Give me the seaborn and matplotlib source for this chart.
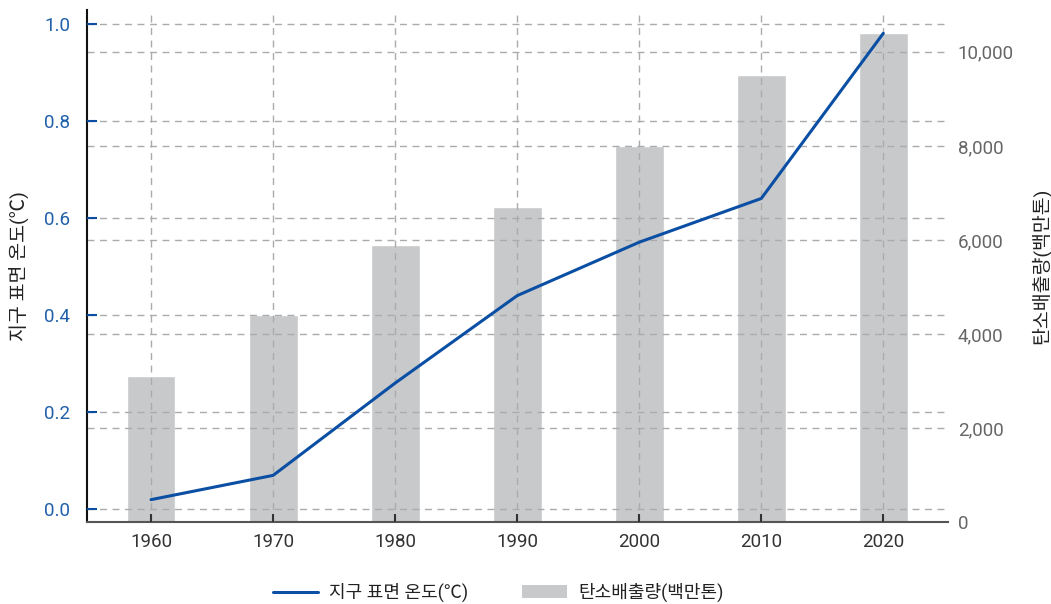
import matplotlib
matplotlib.use("Agg")
import matplotlib.pyplot as plt
import seaborn as sns
import pandas as pd
from matplotlib.lines import Line2D
from matplotlib.patches import Patch
from matplotlib.ticker import FuncFormatter

years = ["1960", "1970", "1980", "1990", "2000", "2010", "2020"]
temperature = [0.02, 0.07, 0.26, 0.44, 0.55, 0.64, 0.98]
emissions = [3100, 4400, 5900, 6700, 8000, 9500, 10400]
temp_label = "지구 표면 온도(℃)"
emis_label = "탄소배출량(백만톤)"
left_ticks = [0.0, 0.2, 0.4, 0.6, 0.8, 1.0]
right_ticks = [0, 2000, 4000, 6000, 8000, 10000]

sns.set_theme(style="white")
plt.rcParams["font.family"] = ["Roboto", "Noto Sans CJK KR", "DejaVu Sans"]

df = pd.DataFrame({"year": years, "temp": temperature, "emis": emissions})

LINE_C = "#0a4fa3"
BAR_C = "#c8c9cb"
GRID_C = "#ababab"

fig = plt.figure(figsize=(10.51, 6.04), dpi=100)
ax1 = fig.add_axes([87 / 1051, 1 - 522 / 604, (948 - 87) / 1051, (522 - 10) / 604])
ax2 = ax1.twinx()

# bars on right axis (drawn behind)
sns.barplot(data=df, x="year", y="emis", ax=ax2, color=BAR_C, width=0.4,
            saturation=1, zorder=1)
ax2.set_ylim(0, 10890)
ax2.set_yticks(right_ticks)
ax2.yaxis.set_major_formatter(FuncFormatter(lambda v, p: f"{int(v):,}"))
ax2.tick_params(axis="y", length=0, pad=7, labelsize=13.5, labelcolor="#666666")
ax2.set_axisbelow(False)
ax2.grid(axis="y", color=GRID_C, linestyle=(0, (5, 4)), linewidth=1)
ax2.grid(axis="x", visible=False)
for s in ax2.spines.values():
    s.set_visible(False)
ax2.set_ylabel(emis_label, fontsize=14, color="#222222", labelpad=12)

# line on left axis (drawn on top)
ax1.set_zorder(ax2.get_zorder() + 1)
ax1.patch.set_visible(False)
sns.lineplot(data=df, x="year", y="temp", ax=ax1, color=LINE_C, linewidth=2.2,
             sort=False, zorder=5)
ax1.set_ylim(-0.026, 1.028)
ax1.set_xlim(-0.525, 6.53)
ax1.set_yticks(left_ticks)
ax1.yaxis.set_major_formatter(FuncFormatter(lambda v, p: f"{v:.1f}"))
ax1.grid(True, color=GRID_C, linestyle=(0, (5, 4)), linewidth=1)
ax1.set_axisbelow(False)
ax1.tick_params(axis="y", direction="in", length=7, width=1.5, color=LINE_C,
                labelcolor="#2060aa", labelsize=13.5, pad=12, left=True)
ax1.tick_params(axis="x", direction="in", length=6, width=1.5, color="#333333",
                labelcolor="#333333", labelsize=13.5, pad=8, bottom=True)
ax1.set_xlabel("")
ax1.set_ylabel(temp_label, fontsize=14, color="#222222", labelpad=11)
ax2.set_xlabel("")
ax1.spines["top"].set_visible(False)
ax1.spines["right"].set_visible(False)
ax1.spines["left"].set_color("#111111")
ax1.spines["left"].set_linewidth(1.5)
ax1.spines["bottom"].set_color("#555555")
ax1.spines["bottom"].set_linewidth(1.5)

handles = [Line2D([0], [0], color=LINE_C, linewidth=2.2),
           Patch(facecolor=BAR_C, edgecolor="none")]
fig.legend(handles, [temp_label, emis_label], loc="lower center",
           bbox_to_anchor=(0.474, -0.024), ncol=2, frameon=False, fontsize=13,
           handlelength=2.5, handletextpad=0.6, columnspacing=3.0,
           labelcolor="#222222")

fig.savefig("out.png", dpi=100)
